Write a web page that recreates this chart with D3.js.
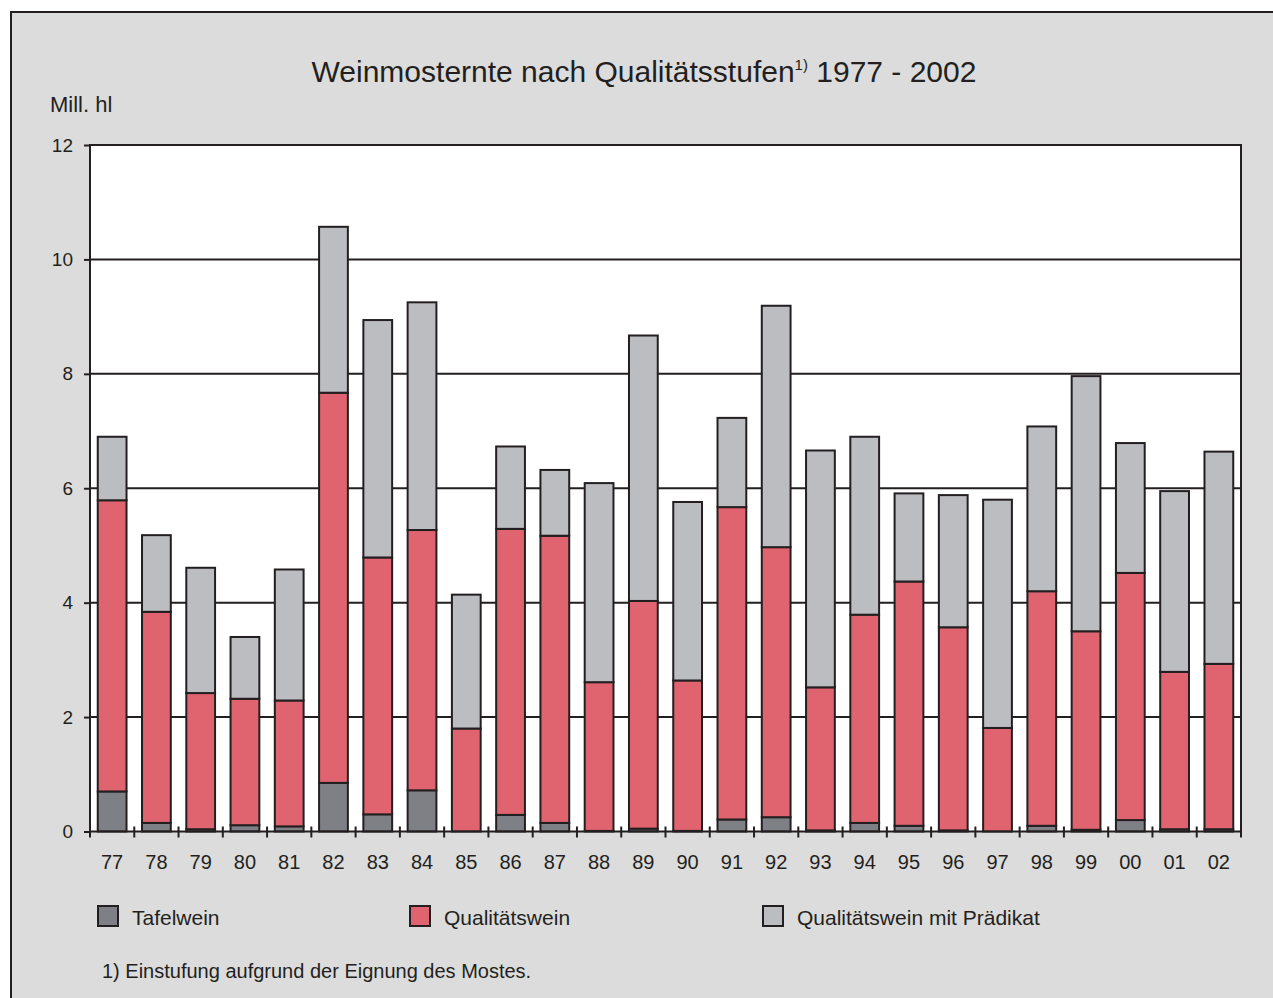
<!DOCTYPE html>
<html>
<head>
<meta charset="utf-8">
<script src="https://cdn.jsdelivr.net/npm/d3@7"></script>
<style>
  body { margin: 0; background: #ffffff; }
  svg { display: block; font-family: 'Liberation Sans', Arial, sans-serif; }
</style>
</head>
<body>
<div id="container"></div>
<script>
const years = ['77','78','79','80','81','82','83','84','85','86','87','88','89',
  '90','91','92','93','94','95','96','97','98','99','00','01','02'];
const tafelwein = [0.70,0.15,0.04,0.11,0.09,0.85,0.30,0.72,0.00,0.29,0.15,0.01,0.05,
  0.01,0.21,0.25,0.02,0.15,0.10,0.02,0.00,0.10,0.03,0.20,0.04,0.04];
const qualitaetswein = [5.09,3.69,2.38,2.21,2.20,6.82,4.49,4.55,1.80,5.00,5.02,2.60,3.98,
  2.63,5.46,4.72,2.50,3.64,4.27,3.55,1.81,4.10,3.47,4.32,2.75,2.89];
const praedikat = [1.11,1.34,2.19,1.08,2.29,2.90,4.15,3.98,2.34,1.44,1.15,3.48,4.64,
  3.12,1.56,4.22,4.14,3.11,1.54,2.31,3.99,2.88,4.46,2.27,3.16,3.71];
const seriesNames = ['Tafelwein', 'Qualitätswein', 'Qualitätswein mit Prädikat'];
const yTicks = [0, 2, 4, 6, 8, 10, 12];

const svgWidth = 1273, svgHeight = 998;
const plotLeft = 90, plotRight = 1241, plotTop = 145, plotBottom = 831.5;
const ink = '#231f20';
const colors = ['#7f8085', '#e06370', '#bcbdc1'];

const svg = d3.select('#container').append('svg')
  .attr('width', svgWidth).attr('height', svgHeight);

// grey frame
svg.append('rect')
  .attr('x', 11).attr('y', 12)
  .attr('width', svgWidth).attr('height', svgHeight)
  .attr('fill', '#dcdcdc').attr('stroke', ink).attr('stroke-width', 2);

const rows = years.map((y, i) => ({
  year: y, Tafelwein: tafelwein[i], 'Qualitätswein': qualitaetswein[i],
  'Qualitätswein mit Prädikat': praedikat[i]
}));
const stacked = d3.stack().keys(seriesNames)(rows);

const xScale = d3.scaleBand().domain(years).range([plotLeft, plotRight])
  .paddingInner(0.35).paddingOuter(0.175);
const yScale = d3.scaleLinear().domain([0, 12]).range([plotBottom, plotTop]);

// plot area
svg.append('rect')
  .attr('x', plotLeft).attr('y', plotTop)
  .attr('width', plotRight - plotLeft).attr('height', plotBottom - plotTop)
  .attr('fill', '#ffffff');

// gridlines
svg.append('g')
  .selectAll('line')
  .data(yTicks.filter((d) => d > 0 && d < 12))
  .enter().append('line')
  .attr('x1', plotLeft).attr('x2', plotRight)
  .attr('y1', (d) => yScale(d)).attr('y2', (d) => yScale(d))
  .attr('stroke', ink).attr('stroke-width', 2);

// bars
svg.append('g')
  .selectAll('g')
  .data(stacked)
  .enter().append('g')
  .attr('fill', (d, i) => colors[i])
  .selectAll('rect')
  .data((d) => d.filter((p) => p[1] - p[0] > 0))
  .enter().append('rect')
  .attr('x', (d) => xScale(d.data.year))
  .attr('width', xScale.bandwidth())
  .attr('y', (d) => yScale(d[1]))
  .attr('height', (d) => yScale(d[0]) - yScale(d[1]))
  .attr('stroke', ink).attr('stroke-width', 2);

// plot border
svg.append('rect')
  .attr('x', plotLeft).attr('y', plotTop)
  .attr('width', plotRight - plotLeft).attr('height', plotBottom - plotTop)
  .attr('fill', 'none').attr('stroke', ink).attr('stroke-width', 2);

// y axis
const yAxis = d3.axisLeft(yScale).tickValues(yTicks).tickSize(6).tickPadding(11);
svg.append('g')
  .attr('transform', `translate(${plotLeft},0)`)
  .call(yAxis)
  .call((g) => g.select('.domain').remove())
  .call((g) => g.selectAll('line').attr('stroke', ink).attr('stroke-width', 2))
  .call((g) => g.selectAll('text').attr('fill', ink)
    .style('font-size', '19px').style('font-family', "'Liberation Sans', Arial, sans-serif"));

// x axis: ticks at band boundaries, labels at centres
const step = xScale.step();
const xTicks = d3.range(years.length + 1).map((i) => plotLeft + i * step);
svg.append('g')
  .selectAll('line')
  .data(xTicks)
  .enter().append('line')
  .attr('x1', (d) => d).attr('x2', (d) => d)
  .attr('y1', plotBottom - 5).attr('y2', plotBottom + 6)
  .attr('stroke', ink).attr('stroke-width', 2);

svg.append('g')
  .selectAll('text')
  .data(years)
  .enter().append('text')
  .attr('x', (d) => xScale(d) + xScale.bandwidth() / 2)
  .attr('y', 869)
  .attr('text-anchor', 'middle')
  .attr('fill', ink)
  .style('font-size', '20px')
  .text((d) => d);

// title
const title = svg.append('text')
  .attr('x', 644).attr('y', 82)
  .attr('text-anchor', 'middle')
  .attr('fill', ink)
  .style('font-size', '30px');
title.append('tspan').text('Weinmosternte nach Qualitätsstufen');
title.append('tspan').attr('dy', -12).style('font-size', '15px').text('1)');
title.append('tspan').attr('dy', 12).text(' 1977 - 2002');

svg.append('text')
  .attr('x', 50).attr('y', 112)
  .attr('fill', ink)
  .style('font-size', '22px')
  .text('Mill. hl');

// legend
const legendX = [98, 410, 763];
const legend = svg.append('g')
  .selectAll('g')
  .data(seriesNames)
  .enter().append('g')
  .attr('transform', (d, i) => `translate(${legendX[i]},906)`);
legend.append('rect')
  .attr('width', 20).attr('height', 20)
  .attr('fill', (d, i) => colors[i])
  .attr('stroke', ink).attr('stroke-width', 2);
legend.append('text')
  .attr('x', 34).attr('y', 19)
  .attr('fill', ink)
  .style('font-size', '21px')
  .text((d) => d);

svg.append('text')
  .attr('x', 102).attr('y', 978)
  .attr('fill', ink)
  .style('font-size', '20px')
  .text('1) Einstufung aufgrund der Eignung des Mostes.');
</script>
</body>
</html>
